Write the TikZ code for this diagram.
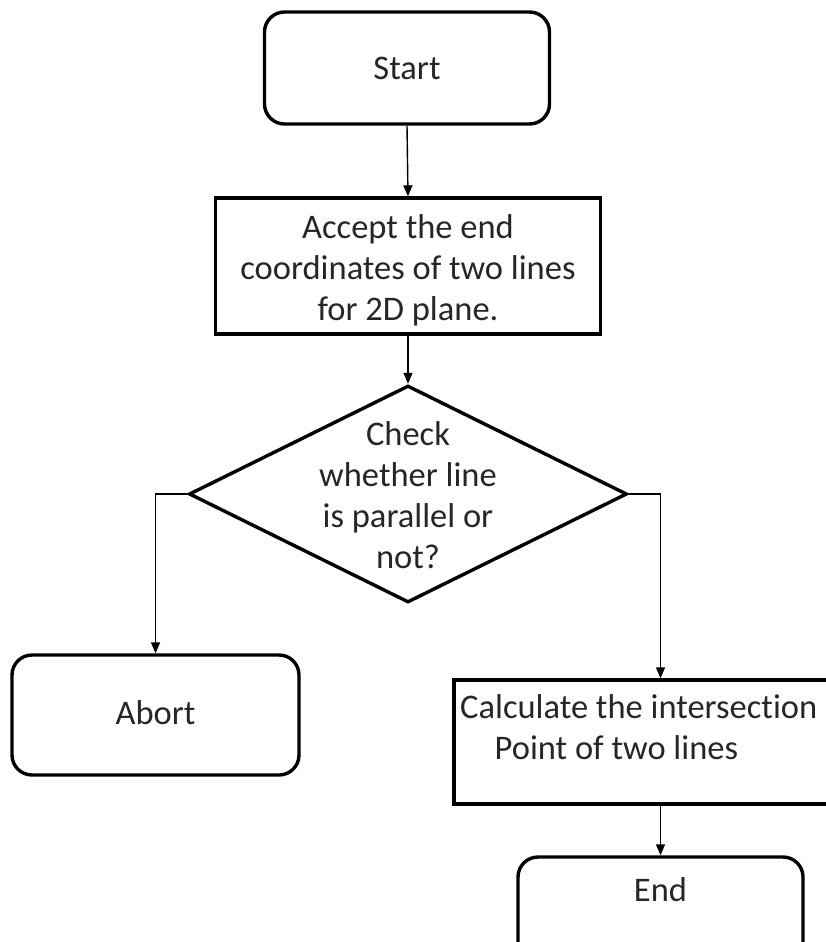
\documentclass[tikz,border=0pt]{standalone}
\usepackage{fontspec}
\setmainfont[Ligatures={NoCommon}]{Carlito}
\usetikzlibrary{arrows.meta,shapes.geometric}

\tikzset{
  terminal/.style={draw, line width=3.4pt, rounded corners=20pt, inner sep=0pt},
  process/.style={draw, line width=3.4pt, inner sep=0pt},
  decision/.style={draw, line width=3.4pt, shape=diamond, inner sep=0pt},
  label/.style={text=black!85, font=\fontsize{34.5}{41}\selectfont, align=center, inner sep=0pt},
  flow/.style={line width=1.4pt, -{Triangle[length=11pt,width=9pt]}}
}

\begin{document}
\begin{tikzpicture}[x=1pt, y=-1pt]
  \useasboundingbox (0,0) rectangle (825,942);

  % shapes (y grows downwards)
  \node[terminal, minimum width=285pt, minimum height=112pt] (start) at (407,68) {};
  \node[process, minimum width=385pt, minimum height=136pt] (accept) at (408,266) {};
  \node[decision, minimum width=438pt, minimum height=217pt] (check) at (408,494) {};
  \node[terminal, minimum width=287pt, minimum height=120pt] (abort) at (155.5,715) {};
  \node[process, minimum width=380pt, minimum height=124pt] (calc) at (644,742) {};
  \node[terminal, minimum width=285pt, minimum height=110pt] (end) at (660.5,912) {};

  % texts
  \node[label] (tstart) at (start) {Start};
  \node[label] (taccept) at (408,270) {Accept the end\\coordinates of two lines\\for 2D plane.};
  \node[label] (tcheck) at (408,495) {Check\\whether line\\is parallel or\\not?};
  \node[label] (tabort) at (155.5,713) {Abort};
  \node[label, align=left, anchor=north west] (tcalc) at (460,694) {Calculate the intersection\\\hspace{1.0em}Point of two lines};
  \node[label] (tend) at (660.5,890) {End};

  % connectors
  \draw[flow] (start.south) -- (accept.north);
  \draw[flow] (accept.south) -- (check.north);
  \draw[flow] (check.west) -| (abort.north);
  \draw[flow] (check.east) -| (end.north |- calc.north);
  \draw[flow] (end.north |- calc.south) -- (end.north);
\end{tikzpicture}
\end{document}
